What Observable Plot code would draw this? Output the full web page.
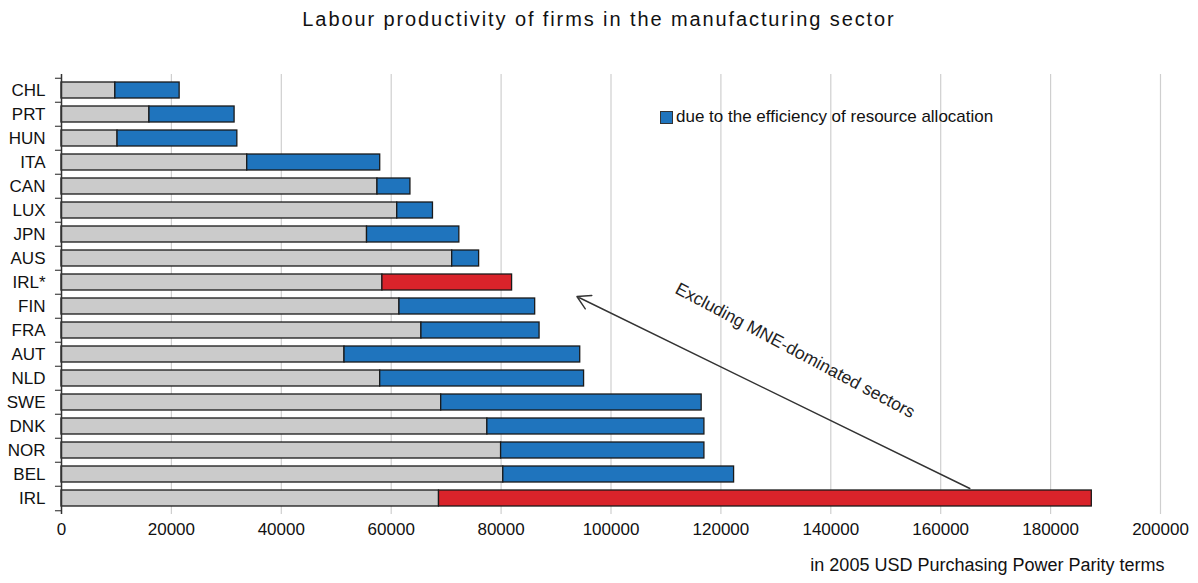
<!DOCTYPE html>
<html>
<head>
<meta charset="utf-8">
<script src="https://cdn.jsdelivr.net/npm/d3@7"></script>
<script src="https://cdn.jsdelivr.net/npm/@observablehq/plot@0.6"></script>
<style>
  body { margin: 0; background: #fff; }
  #wrap { position: relative; width: 1198px; height: 583px; overflow: hidden; }
  #title { position: absolute; top: 8px; left: 0; width: 1198px; text-align: center;
           font: 20px "Liberation Sans", Arial, sans-serif; letter-spacing: 1.9px; color: #111; }
  #chart { position: absolute; top: 48px; left: 0; }
  #legend { position: absolute; left: 660px; top: 107px; font: 17px "Liberation Sans", sans-serif; color: #111; display: flex; align-items: center; }
  #legend .sw { width: 11px; height: 11px; background: #1f74bd; border: 1px solid #333; margin-right: 3px; }
</style>
</head>
<body>
<div id="wrap">
  <div id="title">Labour productivity of firms in the manufacturing sector</div>
  <div id="chart"></div>
  <div id="legend"><span class="sw"></span><span>due to the efficiency of resource allocation</span></div>
</div>
<script>
const countries = ["CHL","PRT","HUN","ITA","CAN","LUX","JPN","AUS","IRL*","FIN","FRA","AUT","NLD","SWE","DNK","NOR","BEL","IRL"];
const baseValues = [9800,16000,10200,33800,57500,61100,55600,71100,58400,61500,65500,51500,58000,69100,77500,80000,80400,68700];
const totalValues = [21500,31500,32000,58000,63500,67600,72400,76000,82000,86200,87000,94400,95100,116500,117000,117000,122400,187500];
const redCountries = ["IRL*","IRL"];
const xTicks = [0,20000,40000,60000,80000,100000,120000,140000,160000,180000,200000];
const axisNote = "in 2005 USD Purchasing Power Parity terms";
const annotation = "Excluding MNE-dominated sectors";

const rows = countries.map((c, i) => ({country: c, base: baseValues[i], total: totalValues[i], red: redCountries.includes(c)}));
const step = 440 / 18;
const font = '"Liberation Sans", Arial, sans-serif';

const chart = Plot.plot({
  width: 1198,
  height: 535,
  marginLeft: 61,
  marginRight: 38,
  marginTop: 26,
  marginBottom: 69,
  style: {fontFamily: font, background: "#fff"},
  x: {domain: [0, 200000], ticks: xTicks},
  y: {domain: countries, paddingInner: 0.33, paddingOuter: 0.165},
  marks: [
    Plot.gridX(xTicks.slice(1), {stroke: "#cfcfcf", strokeOpacity: 1, strokeWidth: 1.2}),
    Plot.axisX(xTicks, {tickSize: 0, tickPadding: 8, fontSize: 17, tickFormat: d => String(d), label: null, fill: "#111"}),
    Plot.axisY({tickSize: 0, tickPadding: 16, fontSize: 17, label: null, fill: "#111"}),
    Plot.ruleY(countries, {y: d => d, x1: -1100, x2: 0, dy: -step / 2, stroke: "#444", strokeWidth: 1.2}),
    Plot.ruleY(countries.slice(-1), {y: d => d, x1: -1100, x2: 0, dy: step / 2, stroke: "#444", strokeWidth: 1.2}),
    Plot.barX(rows, {y: "country", x1: 0, x2: "base", fill: "#cbcbcb", stroke: "#1a1a1a", strokeWidth: 1.3}),
    Plot.barX(rows, {y: "country", x1: "base", x2: "total", fill: d => d.red ? "#d9232a" : "#1f74bd", stroke: "#1a1a1a", strokeWidth: 1.3}),
    Plot.ruleX([0], {stroke: "#333", strokeWidth: 1.5}),
    Plot.arrow([{x1: 165300, y1: "BEL", x2: 93800, y2: "IRL*"}], {x1: "x1", y1: "y1", x2: "x2", y2: "y2", dy: 14, stroke: "#333", strokeWidth: 1.4, headLength: 16, bend: 0}),
    Plot.text([annotation], {x: () => 133500, y: () => "AUT", text: d => d, rotate: 28, fontSize: 17.5, fill: "#222", dy: -4}),
    Plot.text([axisNote], {frameAnchor: "bottom-right", dy: 56, dx: 4, textAnchor: "end", fontSize: 18, fill: "#111"})
  ]
});
document.getElementById("chart").appendChild(chart);
</script>
</body>
</html>
